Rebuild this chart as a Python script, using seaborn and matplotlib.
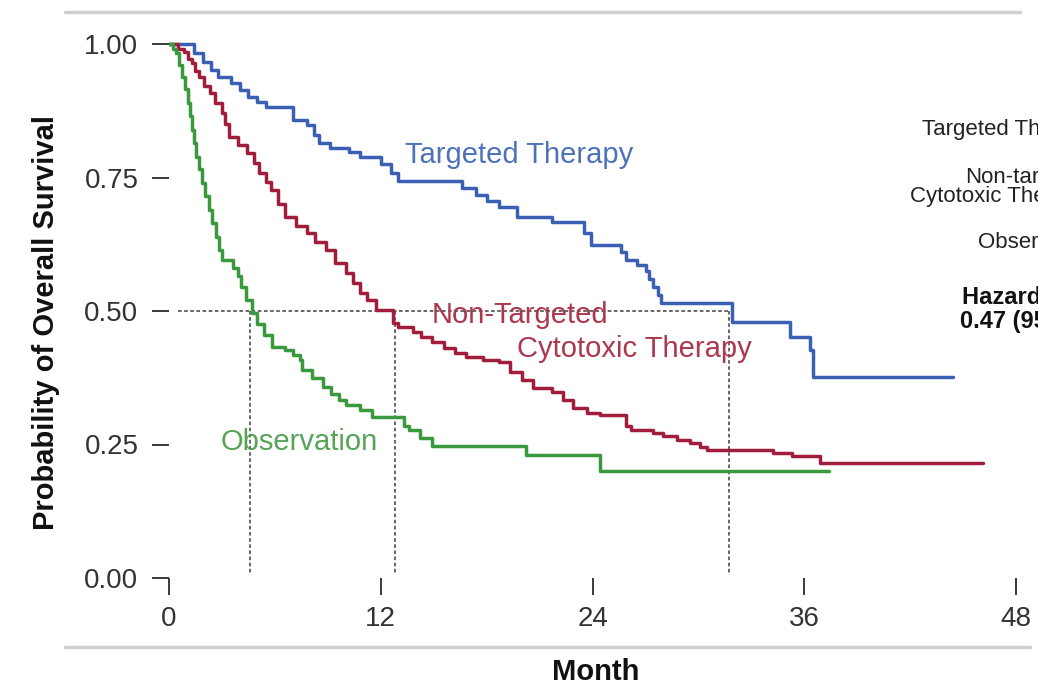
import pandas as pd
import matplotlib
matplotlib.use('Agg')
import matplotlib.pyplot as plt
import seaborn as sns
from matplotlib.lines import Line2D

# Kaplan-Meier step points (month of drop, survival after drop)
tt_month = [0, 1.4, 1.9, 2.4, 2.8, 3.5, 4.0, 4.5, 5.0, 5.5, 7.0, 7.8, 8.2, 8.5, 9.1,
            10.2, 10.8, 12.0, 12.6, 13.0, 16.6, 17.4, 18.0, 18.7, 19.7, 21.7, 23.5,
            23.9, 25.6, 25.9, 26.5, 27.0, 27.2, 27.4, 27.7, 27.9, 31.9, 35.2, 36.3,
            36.5, 44.4]
tt_surv = [1.0, 0.983, 0.966, 0.952, 0.938, 0.927, 0.914, 0.901, 0.891, 0.882, 0.858,
           0.848, 0.83, 0.815, 0.805, 0.798, 0.788, 0.775, 0.758, 0.743, 0.73, 0.717,
           0.706, 0.695, 0.676, 0.667, 0.646, 0.624, 0.61, 0.595, 0.587, 0.575, 0.56,
           0.545, 0.53, 0.515, 0.48, 0.451, 0.427, 0.376, 0.376]

nt_month = [0, 0.5, 0.85, 1.1, 1.3, 1.5, 1.7, 2.0, 2.3, 2.6, 3.0, 3.2, 3.4, 3.9, 4.4,
            4.8, 5.1, 5.5, 5.8, 6.2, 6.6, 7.2, 7.8, 8.3, 8.9, 9.4, 10.0, 10.4, 10.8,
            11.2, 11.7, 12.7, 13.0, 13.8, 14.3, 14.9, 15.6, 16.2, 16.8, 17.8, 18.7,
            19.3, 20.0, 20.6, 21.7, 22.3, 22.9, 23.7, 24.4, 25.9, 26.2, 27.4, 28.0,
            28.8, 29.5, 30.1, 30.5, 34.2, 35.3, 36.9, 46.1]
nt_surv = [1.0, 0.99, 0.985, 0.972, 0.964, 0.95, 0.938, 0.922, 0.908, 0.89, 0.871, 0.85,
           0.826, 0.81, 0.796, 0.777, 0.758, 0.742, 0.727, 0.70, 0.676, 0.66, 0.646,
           0.63, 0.614, 0.59, 0.571, 0.552, 0.534, 0.52, 0.502, 0.478, 0.47, 0.461,
           0.452, 0.442, 0.43, 0.421, 0.414, 0.408, 0.404, 0.386, 0.37, 0.356, 0.348,
           0.333, 0.318, 0.309, 0.305, 0.285, 0.277, 0.271, 0.265, 0.258, 0.252,
           0.245, 0.24, 0.234, 0.228, 0.215, 0.215]

obs_month = [0, 0.2, 0.4, 0.55, 0.74, 0.9, 1.1, 1.2, 1.3, 1.4, 1.53, 1.7, 1.87, 2.05,
             2.27, 2.45, 2.67, 2.85, 3.0, 3.6, 3.9, 4.1, 4.37, 4.7, 5.0, 5.4, 5.84,
             6.6, 7.0, 7.4, 7.55, 8.1, 8.7, 9.2, 9.64, 10.0, 10.8, 11.5, 13.3, 13.6,
             14.2, 14.9, 20.2, 24.4, 37.4]
obs_surv = [1.0, 0.99, 0.983, 0.96, 0.938, 0.915, 0.89, 0.865, 0.839, 0.815, 0.788,
            0.765, 0.74, 0.715, 0.689, 0.664, 0.639, 0.614, 0.596, 0.58, 0.565, 0.545,
            0.521, 0.496, 0.475, 0.455, 0.433, 0.427, 0.418, 0.408, 0.39, 0.374, 0.358,
            0.345, 0.333, 0.324, 0.315, 0.301, 0.285, 0.277, 0.262, 0.247, 0.23, 0.20,
            0.20]

medians = [4.6, 12.8, 31.7]  # median survival (months) per group
x_ticks = [0, 12, 24, 36, 48]
y_ticks = [0.0, 0.25, 0.5, 0.75, 1.0]

groups = ['Targeted Therapy', 'Non-Targeted Cytotoxic Therapy', 'Observation']
line_colors = {'Targeted Therapy': '#3a5fb3',
               'Non-Targeted Cytotoxic Therapy': '#a01d3c',
               'Observation': '#3a983d'}

df = pd.concat([
    pd.DataFrame({'month': tt_month, 'survival': tt_surv, 'group': groups[0]}),
    pd.DataFrame({'month': nt_month, 'survival': nt_surv, 'group': groups[1]}),
    pd.DataFrame({'month': obs_month, 'survival': obs_surv, 'group': groups[2]}),
])

sns.set_style('white')
plt.rcParams['font.family'] = ['Liberation Sans', 'DejaVu Sans']

fig = plt.figure(figsize=(10.38, 6.85), dpi=100)
# axes box in pixels: left 169, right 1030, bottom 578 (y=0), top 28
ax = fig.add_axes([169 / 1038, 1 - 578 / 685, (1030 - 169) / 1038, (578 - 28) / 685])

# median reference lines
dot = dict(color='#5a5a5a', lw=1.3, ls=(0, (2, 1.4)), zorder=1)
ax.plot([0.5, max(medians)], [0.5, 0.5], **dot)
for m in medians:
    ax.plot([m, m], [0.5, 0.005], **dot)

sns.lineplot(data=df, x='month', y='survival', hue='group', palette=line_colors,
             estimator=None, drawstyle='steps-post', lw=2.5, legend=False, ax=ax,
             zorder=3)

ax.set_xlim(0, (1030 - 169) / 17.65)
ax.set_ylim(0, (578 - 28) / 534)
ax.set_xticks(x_ticks)
ax.set_yticks(y_ticks)
ax.set_yticklabels([f'{v:.2f}' for v in y_ticks])
ax.tick_params(axis='both', direction='out', length=12, width=1.4, color='#3a3a3a',
               labelsize=20, labelcolor='#333333')
ax.tick_params(axis='x', pad=8, bottom=True)
ax.tick_params(axis='y', pad=10, left=True)
for sp in ax.spines.values():
    sp.set_visible(False)
ax.set_xlabel('')
ax.set_ylabel('')

# curve labels
ax.text(13.35, 0.777, 'Targeted Therapy', color='#4d72b9', fontsize=21)
ax.text(14.9, 0.477, 'Non-Targeted', color='#ad374f', fontsize=21)
ax.text(19.7, 0.414, 'Cytotoxic Therapy', color='#ad374f', fontsize=21)
ax.text(2.9, 0.240, 'Observation', color='#56a456', fontsize=21)

# axis titles
fig.text(596 / 1038, 1 - 680 / 685, 'Month', ha='center', va='baseline',
         fontsize=21, fontweight='bold', color='#111111')
fig.text(46 / 1038, 1 - 322 / 685, 'Probability of Overall Survival', rotation=90,
         ha='center', va='center', fontsize=21, fontweight='bold', color='#111111')

# right-hand annotation column (cut by the figure edge, as in the source)
side = dict(va='baseline', fontsize=16, color='#222222')
fig.text(922 / 1038, 1 - 135 / 685, 'Targeted Therapy', **side)
fig.text(965 / 1038, 1 - 183 / 685, 'Non-targeted', **side)
fig.text(910 / 1038, 1 - 202 / 685, 'Cytotoxic Therapy', **side)
fig.text(978 / 1038, 1 - 248 / 685, 'Observation', **side)
fig.text(962 / 1038, 1 - 304 / 685, 'Hazard ratio', va='baseline', fontsize=17,
         fontweight='bold', color='#111111')
fig.text(960 / 1038, 1 - 328 / 685, '0.47 (95% CI)', va='baseline', fontsize=17,
         fontweight='bold', color='#111111')

# grey separator rules
fig.add_artist(Line2D([65 / 1038, 1020 / 1038], [1 - 12 / 685, 1 - 12 / 685],
                      color='#cfcfcf', lw=2.5, transform=fig.transFigure))
fig.add_artist(Line2D([65 / 1038, 1030 / 1038], [1 - 647 / 685, 1 - 647 / 685],
                      color='#cfcfcf', lw=2.5, transform=fig.transFigure))

fig.savefig('out.png', dpi=100)
